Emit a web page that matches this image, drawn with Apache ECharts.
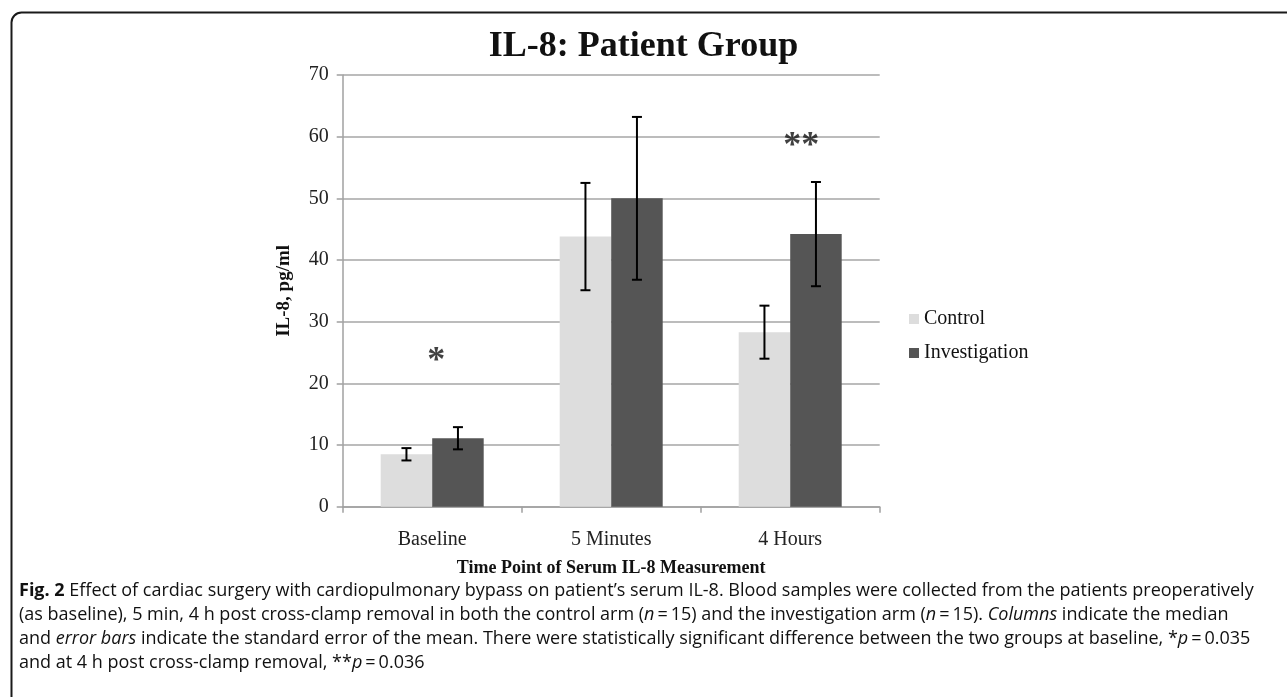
<!DOCTYPE html>
<html>
<head>
<meta charset="utf-8">
<script src="https://cdn.jsdelivr.net/npm/echarts@6/dist/echarts.min.js"></script>
<style>
html,body{margin:0;padding:0;background:#fff;}
#chart{width:1287px;height:697px;}
</style>
</head>
<body>
<div id="chart"></div>
<script>
var categories = ['Baseline', '5 Minutes', '4 Hours'];
var controlMean = [8.5, 43.8, 28.3];
var controlErr = [1.0, 8.7, 4.3];
var investMean = [11.1, 50.0, 44.2];
var investErr = [1.8, 13.2, 8.45];
var yTicks = [0, 10, 20, 30, 40, 50, 60, 70];
var starLabels = ['*', '', '**'];
var starValues = [23.5, null, 58.3];

var captionLines = [
  '{b|Fig. 2} Effect of cardiac surgery with cardiopulmonary bypass on patient\u2019s serum IL-8. Blood samples were collected from the patients preoperatively',
  '(as baseline), 5 min, 4 h post cross-clamp removal in both the control arm ({i|n}\u2009=\u200915) and the investigation arm ({i|n}\u2009=\u200915). {i|Columns} indicate the median',
  'and {i|error bars} indicate the standard error of the mean. There were statistically significant difference between the two groups at baseline, *{i|p}\u2009=\u20090.035',
  'and at 4 h post cross-clamp removal, **{i|p}\u2009=\u20090.036'
];

var BAR_W = 51.5;
var serif = 'Liberation Serif';
var capFont = 'Open Sans';
var capSize = 18;

var errData = [];
for (var k = 0; k < categories.length; k++) {
  errData.push([k, controlMean[k] - controlErr[k], controlMean[k] + controlErr[k], -1]);
  errData.push([k, investMean[k] - investErr[k], investMean[k] + investErr[k], 1]);
}
var starOffsets = [[4, 0], null, [11, 0]];
var starData = [];
for (var s = 0; s < categories.length; s++) {
  if (starValues[s] !== null) starData.push({value: [s, starValues[s]], label: {formatter: starLabels[s], offset: starOffsets[s]}});
}

var graphics = [{
  type: 'rect', left: 9, top: 10, z: 100,
  shape: {x: 9, y: 10, width: 1300, height: 720, r: 10},
  style: {fill: 'none', stroke: '#1a1a1a', lineWidth: 2}
}];
var capRich = {
  b: {fontFamily: capFont, fontWeight: 'bold', fontSize: capSize, fill: '#111'},
  i: {fontFamily: capFont, fontStyle: 'italic', fontSize: capSize, fill: '#111'}
};
for (var c = 0; c < captionLines.length; c++) {
  graphics.push({
    type: 'text', left: 19, top: 582 + c * 24, z: 100,
    style: {text: captionLines[c], fontFamily: capFont, fontSize: capSize, fill: '#111', rich: capRich}
  });
}

var chart = echarts.init(document.getElementById('chart'));
chart.setOption({
  backgroundColor: '#fff',
  animation: false,
  title: {
    text: 'IL-8: Patient Group', left: 'center', top: 24,
    textStyle: {fontFamily: serif, fontWeight: 'bold', fontSize: 36, color: '#111'}
  },
  grid: {left: 342.7, right: 407.3, top: 75, bottom: 190.3, containLabel: false},
  legend: {
    data: ['Control', 'Investigation'], orient: 'vertical', left: 904, top: 304,
    itemWidth: 10, itemHeight: 10, itemGap: 14, icon: 'rect',
    textStyle: {fontFamily: serif, fontSize: 20, color: '#111'}
  },
  xAxis: {
    type: 'category', data: categories,
    name: 'Time Point of Serum IL-8 Measurement', nameLocation: 'middle', nameGap: 53,
    nameTextStyle: {fontFamily: serif, fontWeight: 'bold', fontSize: 18, color: '#111'},
    axisLine: {lineStyle: {color: '#a0a0a0', width: 1.5}},
    axisTick: {show: true, length: 6, lineStyle: {color: '#a0a0a0', width: 1.5}},
    axisLabel: {fontFamily: serif, fontSize: 20, color: '#222', margin: 23}
  },
  yAxis: {
    type: 'value', min: 0, max: 70, interval: 10,
    name: 'IL-8, pg/ml', nameLocation: 'middle', nameGap: 49, nameRotate: 90,
    nameTextStyle: {fontFamily: serif, fontWeight: 'bold', fontSize: 19, color: '#111'},
    axisLine: {show: true, lineStyle: {color: '#a0a0a0', width: 1.5}},
    axisTick: {show: true, length: 6, lineStyle: {color: '#a0a0a0', width: 1.5}},
    splitLine: {lineStyle: {color: '#a6a6a6', width: 1.5}},
    axisLabel: {fontFamily: serif, fontSize: 20, color: '#222', margin: 14,
      formatter: function (v) { return yTicks.indexOf(v) >= 0 ? String(v) : ''; }}
  },
  series: [
    {name: 'Control', type: 'bar', data: controlMean, barWidth: BAR_W, barGap: '0%',
      itemStyle: {color: '#dddddd'}},
    {name: 'Investigation', type: 'bar', data: investMean, barWidth: BAR_W, barGap: '0%',
      itemStyle: {color: '#555555'}},
    {name: 'err', type: 'custom', z: 5, data: errData,
      encode: {x: 0, y: [1, 2]},
      renderItem: function (params, api) {
        var i = api.value(0);
        var lo = api.coord([i, api.value(1)]);
        var hi = api.coord([i, api.value(2)]);
        var x = lo[0] + api.value(3) * BAR_W / 2;
        var cap = 5;
        var st = {stroke: '#000', lineWidth: 2};
        return {type: 'group', children: [
          {type: 'line', shape: {x1: x, y1: hi[1], x2: x, y2: lo[1]}, style: st},
          {type: 'line', shape: {x1: x - cap, y1: hi[1], x2: x + cap, y2: hi[1]}, style: st},
          {type: 'line', shape: {x1: x - cap, y1: lo[1], x2: x + cap, y2: lo[1]}, style: st}
        ]};
      }
    },
    {name: 'stars', type: 'scatter', symbolSize: 0, z: 6, data: starData,
      label: {show: true, position: 'inside', fontFamily: serif, fontWeight: 'bold',
        fontSize: 36, color: '#111'}}
  ],
  graphic: graphics
});
</script>
</body>
</html>
